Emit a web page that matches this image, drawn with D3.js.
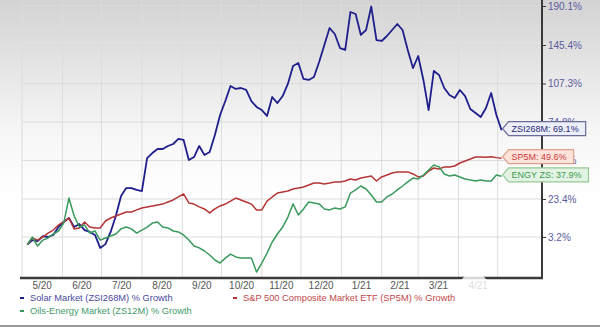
<!DOCTYPE html>
<html><head><meta charset="utf-8">
<script src="https://cdn.jsdelivr.net/npm/d3@7"></script>
<style>
html,body{margin:0;padding:0;background:#fff;}
svg{display:block;font-family:"Liberation Sans",Arial,sans-serif;}
</style></head>
<body><svg id="c" width="600" height="328"></svg>
<script>
// ---- data ----
const startDate = "2020-05-05";
const stepDays = 4;
const solarValues = [0,1.9,1.5,3.7,3.2,4.3,8.5,11.2,13.3,8.5,10.1,6.9,5.9,4.3,-1.4,0.2,5.9,14.4,25.3,30.4,
  30.4,29.2,28.5,49.7,53.2,56.0,56.0,58.1,59.5,63.0,62.3,48.3,50.4,58.1,51.8,53.9,65.7,80.7,92.5,105.2,
  102.7,103.5,101.9,92.5,87.5,84.9,79.9,95.9,90.8,96.7,106.9,124.6,127.6,111.8,110.8,113.7,128.6,145.4,164.9,158.0,
  142.4,140.5,183.2,180.9,156.9,162.6,189.5,151.1,150.0,155.7,162.6,169.5,162.6,140.5,122.6,134.5,110.8,84.9,119.7,115.7,
  103.5,97.6,95.1,101.8,96.7,85.8,82.4,79.0,86.6,99.3,80.7,69.1];
const sp5mValues = [0,2.8,1.9,3.2,5.3,6.9,9.6,11.2,13.3,7.5,8.0,11.2,8.5,8.0,8.0,11.7,13.3,14.4,15.4,16.5,
  16.5,17.6,18.6,19.2,19.7,20.2,20.7,21.8,22.9,24.7,26.6,21.3,20.7,19.2,18.1,16.0,18.1,19.7,20.7,22.3,
  24.0,22.9,21.8,20.7,17.6,17.6,22.3,24.7,27.2,27.9,28.5,29.8,30.4,31.1,32.3,33.6,33.6,33.0,33.6,34.3,
  34.3,34.9,36.2,35.5,36.8,37.5,38.1,34.9,37.5,38.7,40.0,40.7,40.7,40.7,39.4,37.5,38.1,41.3,43.2,42.6,
  43.9,43.9,44.5,46.4,47.7,49.0,50.4,50.4,50.2,50.6,50.0,49.6];
const energyValues = [0,3.2,-0.6,1.9,2.8,4.8,6.4,10.6,24.0,14.4,8.5,9.6,5.3,6.4,1.9,2.8,3.7,4.8,7.5,8.5,
  7.5,5.3,6.9,8.5,10.6,11.2,8.5,8.0,6.4,5.9,4.3,1.9,-0.6,-1.4,-2.7,-4.4,-6.5,-7.8,-5.7,-4.0,
  -5.2,-5.7,-5.7,-5.7,-11.6,-7.8,-3.6,1.1,4.8,8.5,13.8,20.8,14.9,18.1,21.8,21.3,20.8,18.1,17.6,18.6,
  18.1,19.2,27.2,29.2,31.7,29.8,26.0,21.8,21.8,24.7,26.6,29.2,31.7,34.3,36.8,36.2,38.7,41.9,45.1,43.9,
  39.4,38.1,38.7,37.5,36.2,35.5,34.9,35.5,34.9,34.9,38.7,37.9];
const seriesNames = ["Solar Market (ZSI268M) % Growth","S&P 500 Composite Market ETF (SP5M) % Growth","Oils-Energy Market (ZS12M) % Growth"];
const endTags = ["ZSI268M","SP5M","ENGY ZS"];
const yTickValues = [3.2, 23.4, 48.0, 74.8, 107.3, 145.4, 190.1];

// ---- styles ----
const colors = ["#1e1e8c","#b53535","#3a9a5c"];
const legendText = ["#4a4aa0","#c04848","#3f9a6a"];
const tagFill = ["#eceef8","#fde3da","#e3f3e3"];
const tagStroke = ["#6c6c9c","#e0a08e","#95c895"];
const tagText = ["#2a2a7a","#c83a3a","#3a9a50"];

const svg = d3.select("#c");
const W = 600, H = 328;
const L = 22, R = 542, T = 0, B = 278;

const defs = svg.append("defs");
const g1 = defs.append("linearGradient").attr("id","bg").attr("x1",0).attr("y1",0).attr("x2",0).attr("y2",1);
g1.append("stop").attr("offset","0%").attr("stop-color","#d3d3d3");
g1.append("stop").attr("offset","40%").attr("stop-color","#f6f6f6");
g1.append("stop").attr("offset","60%").attr("stop-color","#ffffff");
svg.append("rect").attr("width",W).attr("height",H).attr("fill","url(#bg)");

const parse = d3.timeParse("%Y-%m-%d");
const d0 = parse(startDate);
const dates = solarValues.map((_, i) => d3.timeDay.offset(d0, i * stepDays));

const x = d3.scaleTime().domain([new Date(2020,4,1), new Date(2021,5,4)]).range([L, R]);
const y = d3.scaleLinear()
  .domain([-14.1, 3.2, 23.4, 48.0, 74.8, 107.3, 145.4, 190.1, 197.0])
  .range([B, 237, 199, 160.5, 122, 83.5, 45, 6, T]);

// gridlines
const months = d3.timeMonth.range(new Date(2020,4,1), new Date(2021,4,2));
svg.append("g").selectAll("line").data(months).join("line")
  .attr("x1", d => x(d)).attr("x2", d => x(d)).attr("y1", T).attr("y2", B)
  .attr("stroke", "#dcdcdc").attr("stroke-width", 1);
svg.append("g").selectAll("line").data(yTickValues).join("line")
  .attr("x1", L).attr("x2", R).attr("y1", d => y(d)).attr("y2", d => y(d))
  .attr("stroke", "#dcdcdc").attr("stroke-width", 1);

// lines
const line = d3.line().x((d,i) => x(dates[i])).y(d => y(d)).curve(d3.curveLinear);
[solarValues, sp5mValues, energyValues].forEach((vals, k) => {
  svg.append("path").datum(vals).attr("d", line).attr("fill","none")
    .attr("stroke", colors[k]).attr("stroke-width", k === 0 ? 1.8 : 1.5)
    .attr("stroke-linejoin","round");
});

// axes
const xAxisMonths = d3.timeMonth.range(new Date(2020,4,1), new Date(2021,4,1));
svg.append("line").attr("x1", 20).attr("x2", R+1).attr("y1", B).attr("y2", B)
  .attr("stroke", "#3a3a3a").attr("stroke-width", 2.5);
svg.append("line").attr("x1", R).attr("x2", R).attr("y1", T).attr("y2", B+1)
  .attr("stroke", "#3a3a3a").attr("stroke-width", 2);
const fmt = d3.timeFormat("%-m/%y");
svg.append("g").selectAll("text").data(xAxisMonths).join("text")
  .attr("x", d => (x(d) + x(d3.timeMonth.offset(d,1))) / 2)
  .attr("y", 289).attr("text-anchor","middle")
  .attr("font-size", 10).attr("fill", "#555")
  .text(d => fmt(d));

const yAxis = d3.axisRight(y).tickValues(yTickValues).tickSize(4).tickFormat(d => d.toFixed(1) + "%");
const ya = svg.append("g").attr("transform", `translate(${R},0)`).call(yAxis);
ya.select(".domain").remove();
ya.selectAll(".tick line").attr("stroke", "#3a3a3a");
ya.selectAll(".tick text").attr("x", 6).attr("font-size", 10)
  .attr("font-family", '"Liberation Sans",Arial,sans-serif').attr("fill", "#5a5aa0");

// end tags
const lastVals = [solarValues, sp5mValues, energyValues].map(a => a[a.length-1]);
const lastDate = dates[dates.length-1];
lastVals.forEach((v, k) => {
  const cy = y(v) - 1.5;
  const x0 = x(lastDate) + 1;
  const grp = svg.append("g");
  const path = grp.append("path");
  const t = grp.append("text").attr("x", x0 + 9).attr("y", cy + 3.2)
    .attr("font-size", 9).attr("fill", tagText[k]).text(`${endTags[k]}: ${v.toFixed(1)}%`);
  const w = t.node().getComputedTextLength();
  const x1 = x0 + 9 + w + 7;
  path.attr("d", `M${x0},${cy} L${x0+6},${cy-7} L${x1},${cy-7} L${x1},${cy+7} L${x0+6},${cy+7} Z`)
    .attr("fill", tagFill[k]).attr("stroke", tagStroke[k]).attr("stroke-width", 1.2);
});

// legend
const legendPos = [[20,301],[233,301],[20,314]];
seriesNames.forEach((name, k) => {
  const [lx, ly] = legendPos[k];
  svg.append("line").attr("x1", lx).attr("x2", lx+4).attr("y1", ly-3).attr("y2", ly-3)
    .attr("stroke", colors[k]).attr("stroke-width", 2);
  svg.append("text").attr("x", lx+10).attr("y", ly).attr("font-size", 9.3)
    .attr("fill", legendText[k]).text(name);
});

// bottom rule
svg.append("line").attr("x1",0).attr("x2",W).attr("y1",326).attr("y2",326)
  .attr("stroke","#9a9a9a").attr("stroke-width",2);

// faint watermark
svg.append("circle").attr("cx", 474).attr("cy", 288).attr("r", 15)
  .attr("fill", "#ffffff").attr("opacity", 0.8);
</script></body></html>
